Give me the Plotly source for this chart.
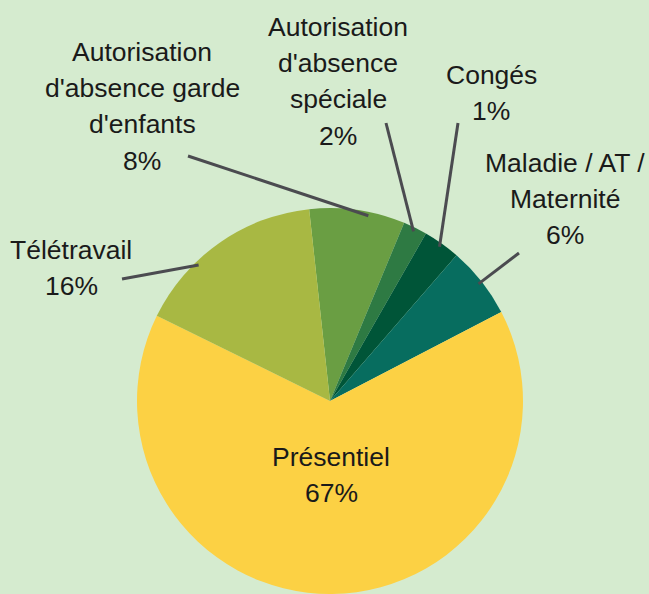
import math
import plotly.graph_objects as go

# slices, clockwise from the top
categories = [
    "Autorisation<br>d'absence garde<br>d'enfants",
    "Autorisation<br>d'absence<br>spéciale",
    "Congés",
    "Maladie / AT /<br>Maternité",
    "Présentiel",
    "Télétravail",
]
shares = [8.0, 2.0, 3.1, 6.0, 64.9, 16.0]          # slice sizes as drawn
shown_pct = ["8%", "2%", "1%", "6%", "67%", "16%"]  # percentages printed on the chart
colors = ["#6a9e43", "#2e7a43", "#005538", "#076d5f", "#fcd144", "#a8b843"]

W, H = 649, 594
BG = "#d5ebcf"
TEXT = "#1a1a1a"
LINE = "#4b4b50"
FONT = dict(family="Liberation Sans, Arial, sans-serif", size=26.5, color=TEXT)
LINE_GAP = 36.2

# pie placement (pixels)
cx, cy, R = 330, 401, 193
rotation = -6.2

# label layout: first-line centre, leader tail (None = inside), tip angle tweak
label_pos = [(142, 52), (338, 27), (491, 75), (565, 163), (331, 457), (71, 250)]
leader_tail = [(188, 156), (386, 123), (458, 123), (519, 253), None, (122, 279)]
tip_shift = [3.5, 0, 0, 0, 0, -9]


def px(x):
    return x / W


def py(y):
    return 1 - y / H


fig = go.Figure(go.Pie(
    labels=categories,
    values=shares,
    sort=False,
    direction="clockwise",
    rotation=rotation,
    marker=dict(colors=colors, line=dict(width=0)),
    textinfo="none",
    hoverinfo="label+percent",
    showlegend=False,
    domain=dict(x=[px(cx - R), px(cx + R)], y=[py(cy + R), py(cy - R)]),
))

total = sum(shares)
start = rotation
annotations, shapes = [], []
for i, (name, val) in enumerate(zip(categories, shares)):
    span = val / total * 360
    mid = math.radians(start + span / 2 + tip_shift[i])
    start += span

    lines = name.split("<br>") + [shown_pct[i]]
    lx, ly = label_pos[i]
    for k, t in enumerate(lines):
        annotations.append(dict(
            x=px(lx), y=py(ly + k * LINE_GAP), xref="paper", yref="paper",
            text=t, showarrow=False, xanchor="center", yanchor="middle",
            font=FONT,
        ))

    if leader_tail[i] is not None:
        tx = cx + 0.98 * R * math.sin(mid)
        ty = cy - 0.98 * R * math.cos(mid)
        ax, ay = leader_tail[i]
        shapes.append(dict(
            type="line", xref="paper", yref="paper",
            x0=px(ax), y0=py(ay), x1=px(tx), y1=py(ty),
            line=dict(color=LINE, width=3),
        ))

fig.update_layout(
    width=W, height=H,
    margin=dict(t=0, l=0, r=0, b=0),
    paper_bgcolor=BG,
    plot_bgcolor=BG,
    annotations=annotations,
    shapes=shapes,
)

# drop the default page margin so the figure fills the window
fig.write_html(
    "out.html",
    config={"responsive": False, "displayModeBar": False},
    post_script="document.body.style.margin='0';document.body.style.overflow='hidden';",
)
